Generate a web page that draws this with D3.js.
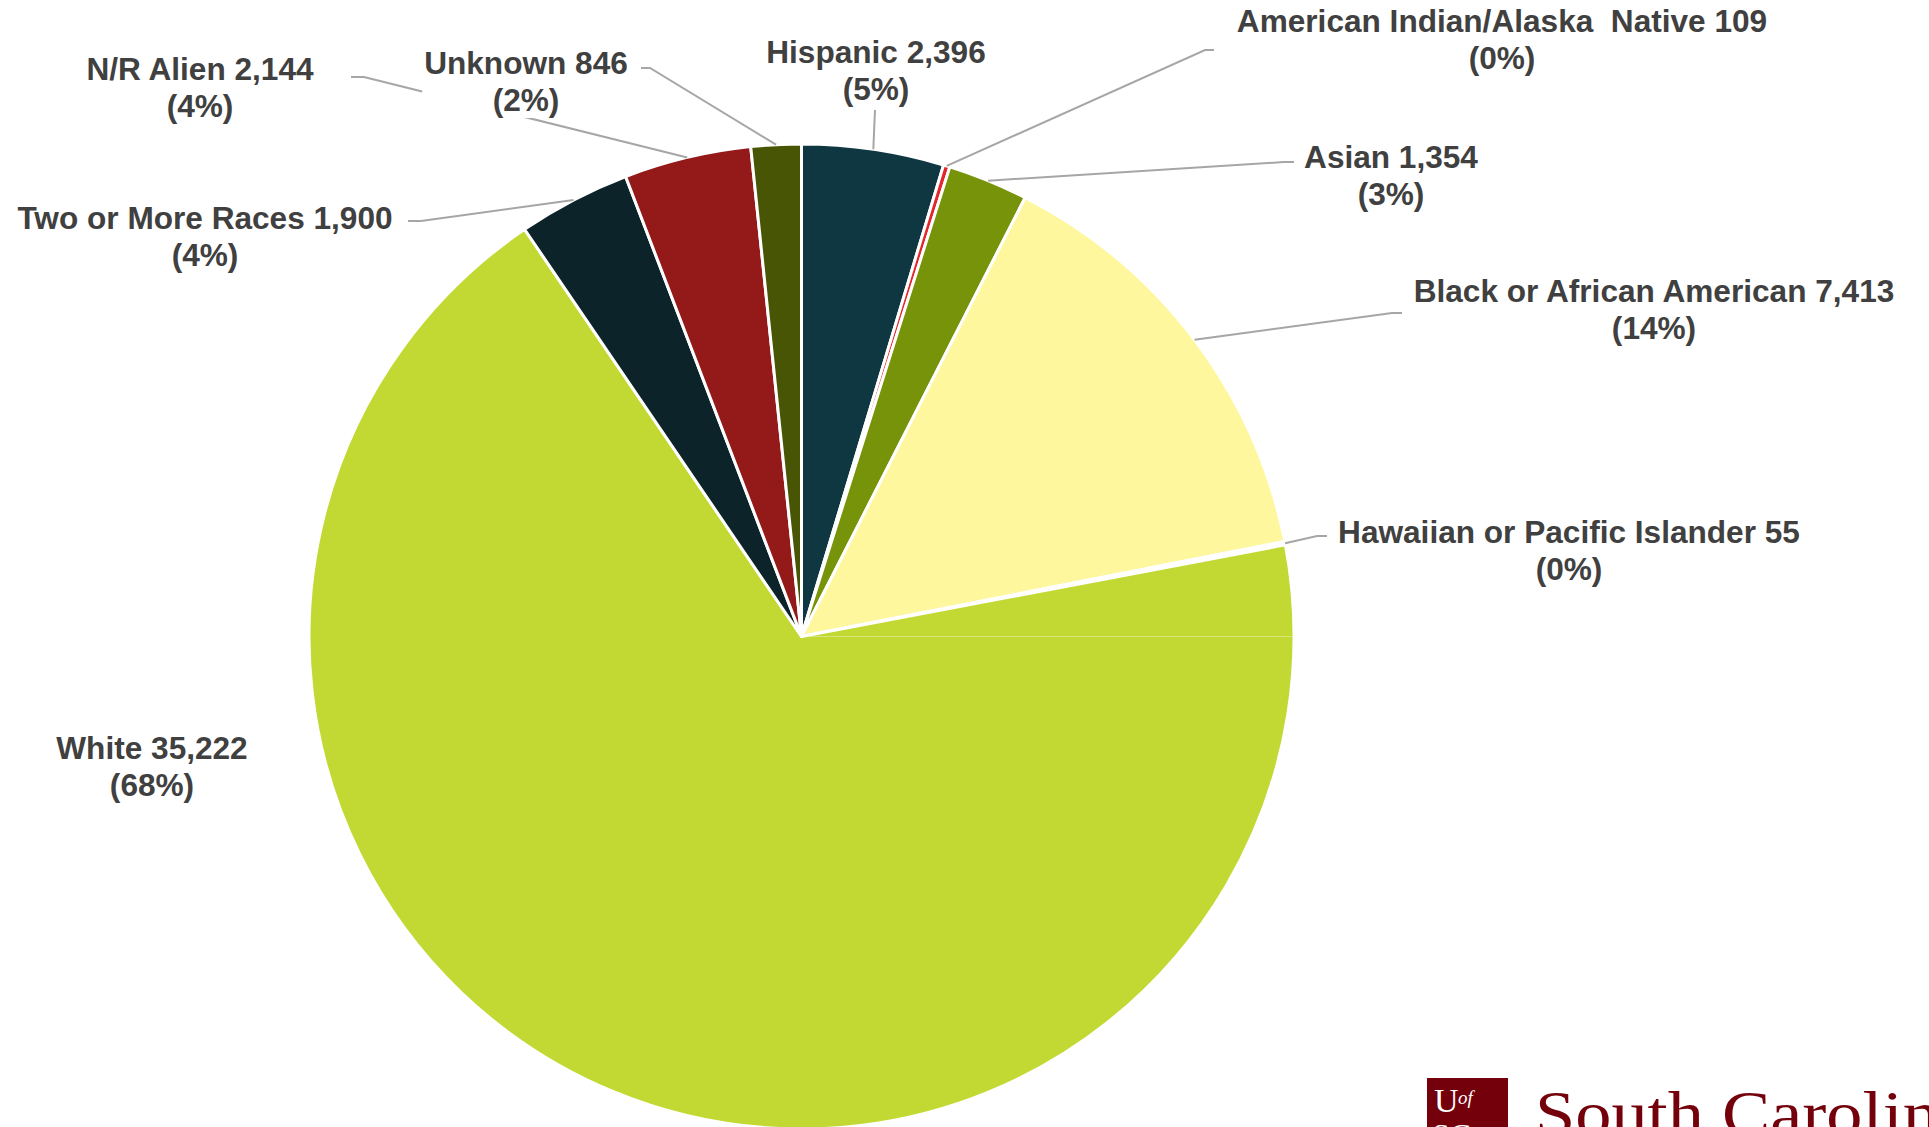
<!DOCTYPE html>
<html>
<head>
<meta charset="utf-8">
<script src="https://cdn.jsdelivr.net/npm/d3@7"></script>
<style>
  html, body { margin: 0; padding: 0; background: #ffffff; overflow: hidden; }
  svg { display: block; }
</style>
</head>
<body>
<svg id="chart" width="1929" height="1127"></svg>
<script>
// Enrollment headcount by race / ethnicity, clockwise from 12 o'clock
const categories = [
  "Hispanic",
  "American Indian/Alaska  Native",
  "Asian",
  "Black or African American",
  "Hawaiian or Pacific Islander",
  "White",
  "Two or More Races",
  "N/R Alien",
  "Unknown"
];
const headcounts = [2396, 109, 1354, 7413, 55, 35222, 1900, 2144, 846];
const sliceColors = ["#0e3742", "#e3262b", "#76930a", "#fef79e", "#ffffff",
                     "#c2d933", "#0b2329", "#941919", "#475505"];

// Label layout: centre x and first-line baseline of each two-line label
const labelAnchors = [
  [876, 63], [1502, 32], [1391, 168], [1654, 302], [1569, 543],
  [152, 759], [205, 229], [200, 80], [526, 74]
];
// Leader lines: outer end (and elbow) before running to the slice edge
const leaderStarts = [
  [[875, 110]],
  [[1214, 50], [1205, 50]],
  [[1294, 162], [1284, 162]],
  [[1402, 313], [1392, 313]],
  [[1327, 536], [1317, 536]],
  null,
  [[408, 221], [421, 221]],
  [[351, 77], [364, 77]],
  [[641, 68], [650, 68]]
];

const W = 1929, H = 1127;
const cx = 801.5, cy = 636.5, radius = 492.5;

const svg = d3.select("#chart");
const rows = categories.map((c, i) => ({ name: c, value: headcounts[i], color: sliceColors[i], i }));
const total = d3.sum(headcounts);
const fmt = d3.format(",");

const pie = d3.pie().sort(null).value(d => d.value).startAngle(0).endAngle(2 * Math.PI);
const arc = d3.arc().innerRadius(0).outerRadius(radius);
const slices = pie(rows);

const gPie = svg.append("g").attr("transform", `translate(${cx},${cy})`);
gPie.selectAll("path.slice")
  .data(slices)
  .join("path")
  .attr("class", "slice")
  .attr("d", arc)
  .attr("fill", d => d.data.color)
  .attr("stroke", "#ffffff")
  .attr("stroke-width", 3)
  .attr("stroke-linejoin", "round");

// faint seam across the large slice along the 3 o'clock radius
gPie.append("line")
  .attr("x1", 0).attr("y1", 0)
  .attr("x2", radius - 1.5).attr("y2", 0)
  .attr("stroke", "rgba(255,255,255,0.35)")
  .attr("stroke-width", 1);

// point on the rim at the middle of a slice
function rimPoint(s) {
  const a = (s.startAngle + s.endAngle) / 2;
  return [cx + radius * Math.sin(a), cy - radius * Math.cos(a)];
}

const gLead = svg.append("g");
slices.forEach((s, i) => {
  const starts = leaderStarts[i];
  if (!starts) return;
  const pts = starts.concat([rimPoint(s)]);
  gLead.append("path")
    .attr("d", d3.line()(pts))
    .attr("fill", "none")
    .attr("stroke", "#a6a6a6")
    .attr("stroke-width", 2);
});

const gLab = svg.append("g")
  .attr("font-family", "'Liberation Sans', Arial, Helvetica, sans-serif")
  .attr("font-weight", "bold")
  .attr("font-size", 31.6)
  .attr("fill", "#404040");

slices.forEach((s, i) => {
  const [lx, ly] = labelAnchors[i];
  const g = gLab.append("g");
  const t = g.append("text")
    .attr("text-anchor", "middle")
    .style("white-space", "pre");
  t.append("tspan").attr("x", lx).attr("y", ly)
    .text(`${s.data.name} ${fmt(s.data.value)}`);
  t.append("tspan").attr("x", lx).attr("y", ly + 37)
    .text(`(${Math.round(s.data.value / total * 100)}%)`);
  const bb = t.node().getBBox();
  g.insert("rect", "text")
    .attr("x", bb.x - 2).attr("y", bb.y)
    .attr("width", bb.width + 4).attr("height", bb.height)
    .attr("fill", "#ffffff");
});

// University wordmark, bottom right
const gLogo = svg.append("g");
gLogo.append("rect")
  .attr("x", 1427).attr("y", 1078)
  .attr("width", 81).attr("height", 70)
  .attr("fill", "#73000a");
gLogo.append("text")
  .attr("x", 1434).attr("y", 1112)
  .attr("font-family", "'Liberation Serif', 'Times New Roman', serif")
  .attr("font-size", 34)
  .attr("fill", "#ffffff")
  .text("U");
gLogo.append("text")
  .attr("x", 1458).attr("y", 1104)
  .attr("font-family", "'Liberation Serif', 'Times New Roman', serif")
  .attr("font-style", "italic")
  .attr("font-size", 19)
  .attr("fill", "#ffffff")
  .text("of");
gLogo.append("text")
  .attr("x", 1432).attr("y", 1146)
  .attr("font-family", "'Liberation Serif', 'Times New Roman', serif")
  .attr("font-size", 32)
  .attr("fill", "#ffffff")
  .text("SC");
gLogo.append("text")
  .attr("x", 1535).attr("y", 1135)
  .attr("font-family", "'Liberation Serif', 'Times New Roman', serif")
  .attr("font-size", 64)
  .attr("fill", "#73000a")
  .attr("textLength", 436)
  .attr("lengthAdjust", "spacingAndGlyphs")
  .text("South Carolina");
</script>
</body>
</html>
